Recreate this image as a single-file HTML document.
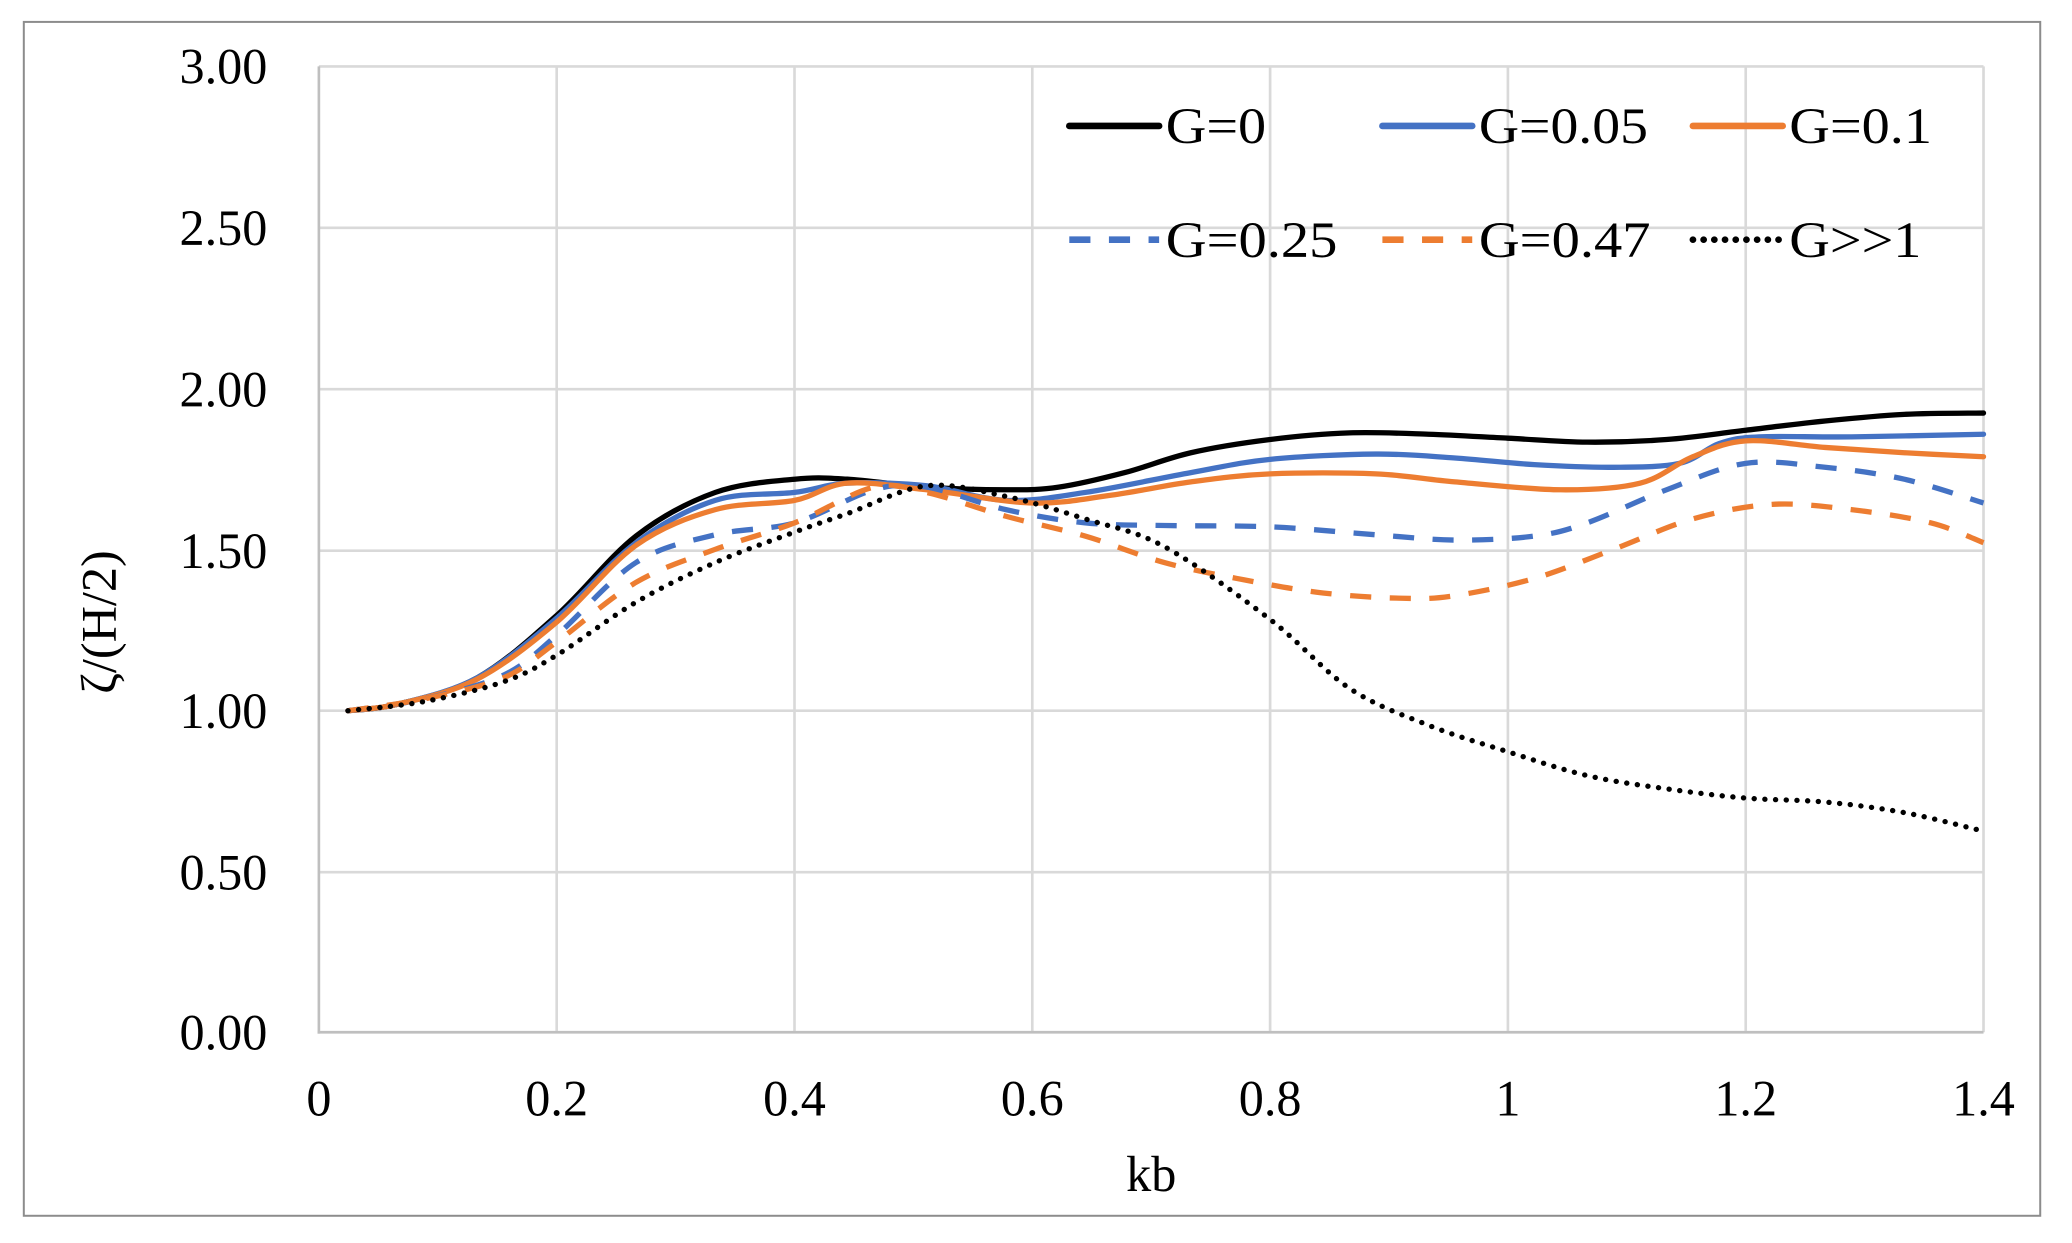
<!DOCTYPE html>
<html><head><meta charset="utf-8"><style>html,body{margin:0;padding:0;background:#fff}svg{display:block}</style></head>
<body>
<svg id="s" width="2072" height="1243" viewBox="0 0 1560 936" xmlns="http://www.w3.org/2000/svg" font-family="Liberation Serif, serif">
<rect x="17.8" y="16.5" width="1518.4" height="899" fill="#fff" stroke="#8c8c8c" stroke-width="1.5"/>
<g transform="translate(240,50) scale(0.99484,0.9963) translate(-240,-50)">
<g stroke="#d9d9d9" stroke-width="2">
<line x1="240" y1="50" x2="1500" y2="50"/><line x1="240" y1="172" x2="1500" y2="172"/><line x1="240" y1="294" x2="1500" y2="294"/><line x1="240" y1="416" x2="1500" y2="416"/><line x1="240" y1="537" x2="1500" y2="537"/><line x1="240" y1="659" x2="1500" y2="659"/>
<line x1="420" y1="50" x2="420" y2="780"/><line x1="600" y1="50" x2="600" y2="780"/><line x1="780" y1="50" x2="780" y2="780"/><line x1="960" y1="50" x2="960" y2="780"/><line x1="1140" y1="50" x2="1140" y2="780"/><line x1="1320" y1="50" x2="1320" y2="780"/><line x1="1500" y1="50" x2="1500" y2="780"/>
</g>
<line x1="240" y1="50" x2="240" y2="781" stroke="#bfbfbf" stroke-width="2"/>
<line x1="239" y1="780" x2="1500" y2="780" stroke="#bfbfbf" stroke-width="2"/>
<g font-size="38" text-anchor="end" fill="#000">
<text x="201" y="63">3.00</text><text x="201" y="185">2.50</text><text x="201" y="307">2.00</text><text x="201" y="429">1.50</text><text x="201" y="550">1.00</text><text x="201" y="672">0.50</text><text x="201" y="793">0.00</text>
</g>
<g font-size="38" text-anchor="middle" fill="#000">
<text x="240" y="843">0</text><text x="420" y="843">0.2</text><text x="600" y="843">0.4</text><text x="780" y="843">0.6</text><text x="960" y="843">0.8</text><text x="1140" y="843">1</text><text x="1320" y="843">1.2</text><text x="1500" y="843">1.4</text>
<text x="870" y="900">kb</text>
<text transform="translate(86,470) rotate(-90)">ζ/(H/2)</text>
</g>
<g id="curves" fill="none" stroke-linecap="round" stroke-linejoin="round"></g>
<g stroke-width="5" stroke-linecap="round">
<line x1="808" y1="95" x2="876" y2="95" stroke="#000"/>
<line x1="1045" y1="95" x2="1113" y2="95" stroke="#4472C4"/>
<line x1="1280" y1="95" x2="1348" y2="95" stroke="#ED7D31"/>
<line x1="808" y1="181" x2="876" y2="181" stroke="#4472C4" stroke-dasharray="16 14" stroke-linecap="butt"/>
<line x1="1045" y1="181" x2="1113" y2="181" stroke="#ED7D31" stroke-dasharray="16 14" stroke-linecap="butt"/>
<line x1="1280" y1="181" x2="1348" y2="181" stroke="#000" stroke-dasharray="0.1 8"/>
</g>
<g font-size="38" fill="#000">
<text x="881" y="108" textLength="76" lengthAdjust="spacingAndGlyphs">G=0</text>
<text x="1118" y="108" textLength="128" lengthAdjust="spacingAndGlyphs">G=0.05</text>
<text x="1353" y="108" textLength="108" lengthAdjust="spacingAndGlyphs">G=0.1</text>
<text x="881" y="194" textLength="130" lengthAdjust="spacingAndGlyphs">G=0.25</text>
<text x="1118" y="194" textLength="130" lengthAdjust="spacingAndGlyphs">G=0.47</text>
<text x="1353" y="194" textLength="100" lengthAdjust="spacingAndGlyphs">G&gt;&gt;1</text>
</g>
</g>
</svg>
<script>
const S=[
["#000","",[[262,537],[300,532],[360,512],[420,465],[480,405],[540,372],[600,362],[640,362],[700,368],[760,370],[800,368],[850,357],[900,342],[960,332],[1020,327],[1080,328],[1140,331],[1200,334],[1260,332],[1320,325],[1380,318],[1440,313],[1500,312]]],
["#4472C4","",[[262,537],[300,532],[360,512],[420,467],[480,410],[540,378],[600,372],[640,365],[700,367],[760,378],[820,372],[900,357],[960,347],[1040,343],[1100,346],[1160,351],[1220,353],[1270,350],[1300,335],[1330,330],[1400,330],[1500,328]]],
["#ED7D31","",[[262,537],[300,532],[360,513],[420,470],[480,412],[540,385],[600,378],[640,365],[700,370],[780,380],[840,374],[900,364],[960,358],[1040,358],[1100,364],[1180,370],[1240,365],[1280,345],[1320,333],[1380,338],[1440,342],[1500,345]]],
["#4472C4","16 14",[[262,537],[320,528],[380,510],[420,480],[480,425],[540,404],[600,395],[660,370],[700,368],[760,385],[820,395],[880,397],[960,398],[1040,404],[1100,408],[1160,405],[1200,395],[1260,370],[1320,350],[1380,353],[1440,362],[1500,380]]],
["#ED7D31","16 14",[[262,537],[320,528],[380,512],[420,485],[480,440],[540,415],[600,395],[660,368],[700,372],[760,390],[820,405],[880,425],[940,438],[1000,448],[1060,452],[1100,450],[1160,437],[1220,415],[1280,392],[1340,381],[1400,385],[1460,395],[1500,410]]],
["#000","0.1 8",[[262,537],[320,530],[380,515],[420,495],[480,455],[540,425],[600,402],[640,388],[700,367],[760,375],[820,392],[880,413],[960,468],[1020,520],[1080,548],[1140,568],[1200,586],[1260,596],[1320,603],[1380,606],[1440,614],[1500,628]]]];
const g=document.getElementById('curves');
for(const [c,d,p] of S){let s=`M${p[0][0]},${p[0][1]}`;
for(let i=0;i<p.length-1;i++){const a=p[Math.max(i-1,0)],b=p[i],e=p[i+1],f=p[Math.min(i+2,p.length-1)];
s+=` C${b[0]+(e[0]-a[0])/6},${b[1]+(e[1]-a[1])/6} ${e[0]-(f[0]-b[0])/6},${e[1]-(f[1]-b[1])/6} ${e[0]},${e[1]}`;}
const el=document.createElementNS('http://www.w3.org/2000/svg','path');el.setAttribute('d',s);el.setAttribute('stroke',c);el.setAttribute('stroke-width','4');
if(d){el.setAttribute('stroke-dasharray',d);if(d.startsWith('16'))el.setAttribute('stroke-linecap','butt');}g.appendChild(el);}
</script>
</body></html>
